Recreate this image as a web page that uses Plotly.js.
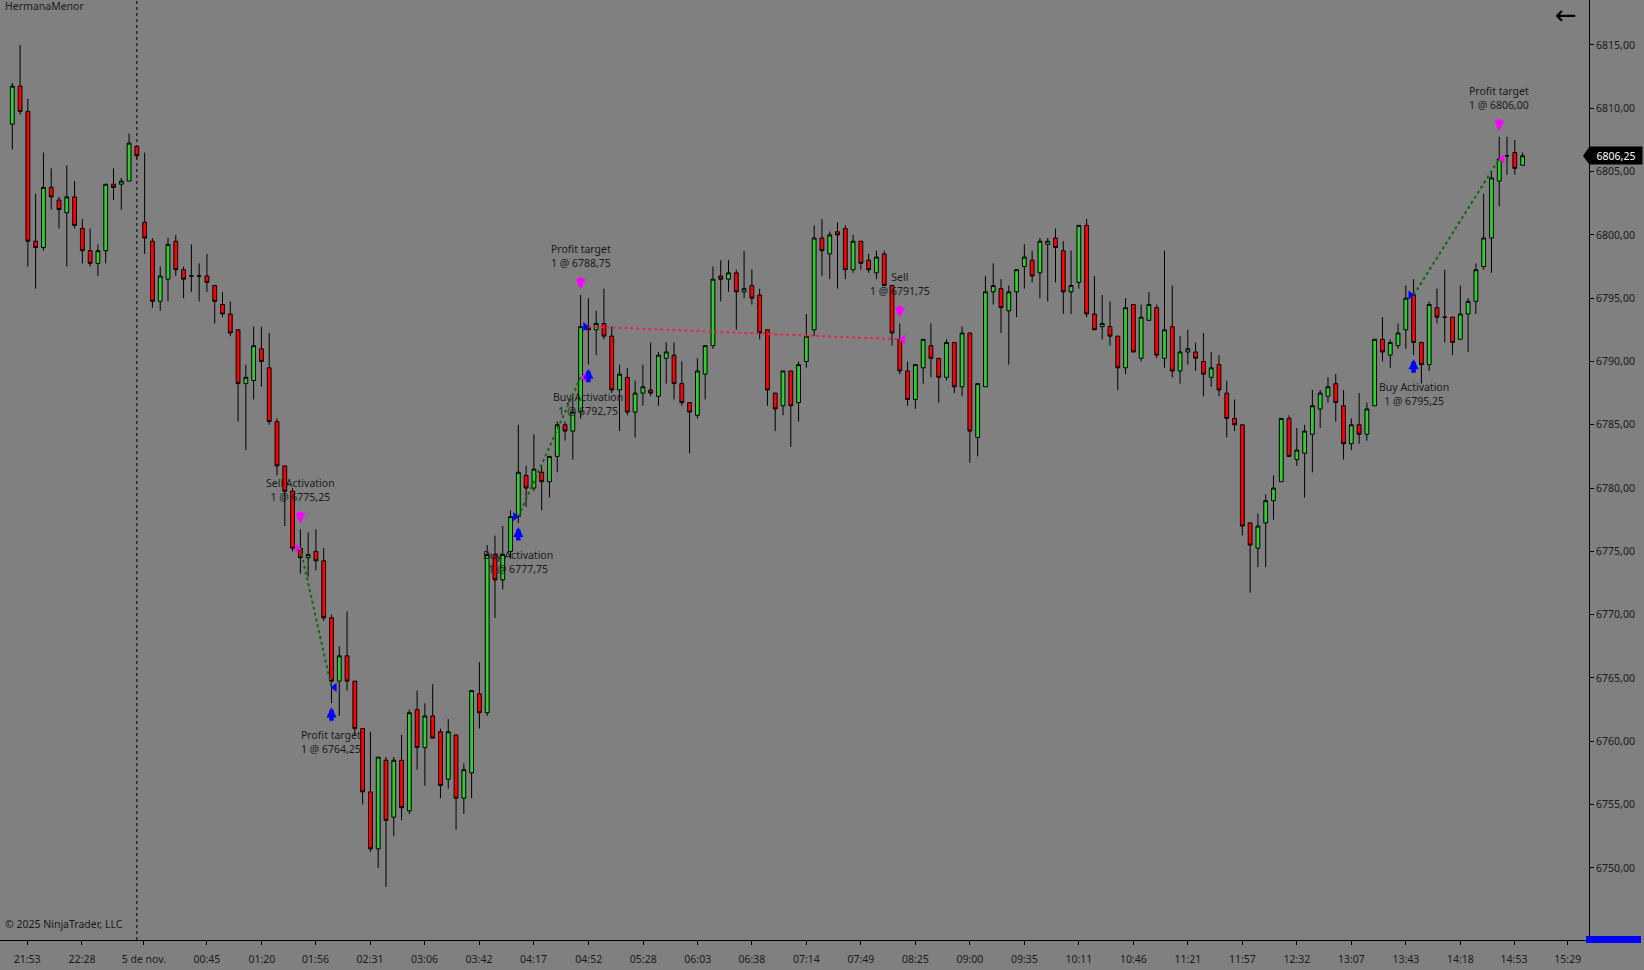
<!DOCTYPE html>
<html>
<head>
<meta charset="utf-8">
<script src="https://cdn.plot.ly/plotly-3.0.1.min.js"></script>
<style>
html,body{margin:0;padding:0;background:#808080;}
#chart{width:1644px;height:970px;}
</style>
</head>
<body>
<div id="chart"></div>
<script>
// ---- 5-minute OHLC bars ----
const barOpen = [
6808.75,6811.75,6809.75,6799.5,6799.0,6803.75,6802.75,6801.75,6803.0,6800.5,
6798.75,6797.75,6798.75,6804.0,6804.0,6804.25,6807.0,6801.0,6799.5,6794.75,
6796.5,6799.5,6797.25,6796.75,6796.75,6796.75,6796.0,6794.5,6793.75,6792.5,
6788.25,6788.5,6791.0,6789.5,6785.25,6781.75,6779.75,6775.25,6774.5,6775.0,
6774.25,6769.75,6764.75,6766.75,6764.75,6761.0,6756.0,6751.5,6758.5,6754.0,
6758.5,6754.5,6762.5,6759.5,6762.0,6760.75,6757.0,6760.5,6755.5,6757.5,
6763.75,6762.25,6774.75,6772.75,6775.0,6777.75,6781.0,6780.0,6781.25,6780.5,
6782.5,6785.0,6784.5,6786.0,6792.75,6792.5,6793.0,6792.0,6787.75,6788.75,
6786.0,6787.5,6787.75,6787.25,6790.25,6790.5,6788.25,6786.75,6785.75,6789.0,
6791.25,6796.75,6796.5,6797.0,6795.5,6796.0,6795.25,6792.5,6787.5,6786.5,
6789.25,6786.75,6790.0,6792.5,6799.75,6798.5,6800.25,6800.5,6797.25,6799.5,
6798.0,6797.0,6798.5,6796.0,6791.75,6789.25,6787.0,6789.5,6791.25,6790.25,
6788.75,6791.5,6788.0,6792.25,6784.0,6788.0,6795.5,6795.75,6794.0,6795.5,
6797.5,6798.0,6797.0,6799.25,6799.75,6798.75,6795.5,6796.25,6800.75,6793.75,
6792.75,6792.75,6792.0,6789.5,6794.5,6790.25,6793.25,6794.25,6790.25,6792.75,
6789.25,6790.75,6790.75,6790.0,6788.75,6789.75,6787.5,6785.5,6785.0,6777.25,
6775.25,6777.25,6779.0,6780.5,6785.5,6782.25,6782.75,6784.25,6786.25,6787.25,
6788.25,6786.5,6783.5,6785.0,6784.25,6786.5,6791.75,6790.5,6791.25,6792.5,
6795.25,6791.5,6789.75,6794.25,6793.5,6793.5,6791.75,6793.75,6794.75,6797.5,
6799.75,6804.25,6806.25,6806.5,6805.5
];
const barHigh = [
6812.0,6815.0,6810.75,6803.25,6806.5,6805.25,6803.0,6805.5,6804.25,6801.25,
6800.5,6799.25,6804.0,6805.25,6804.5,6808.0,6807.0,6806.5,6799.75,6797.5,
6799.75,6800.0,6797.5,6799.25,6797.75,6798.5,6796.0,6795.5,6794.75,6792.5,
6789.75,6792.75,6792.75,6792.25,6785.5,6781.75,6780.0,6776.75,6776.5,6776.75,
6775.25,6770.0,6767.5,6770.25,6764.75,6761.0,6760.75,6758.75,6758.75,6758.75,
6760.5,6762.5,6764.0,6763.0,6764.5,6761.0,6761.75,6760.5,6758.25,6764.0,
6766.25,6775.5,6776.25,6777.0,6778.25,6785.0,6781.75,6784.25,6781.75,6782.5,
6785.25,6785.25,6787.25,6795.25,6795.0,6794.0,6795.75,6792.75,6789.75,6789.5,
6788.5,6789.75,6791.5,6790.75,6791.5,6791.5,6790.0,6786.75,6790.25,6791.25,
6797.5,6798.0,6798.0,6797.25,6798.75,6797.25,6795.75,6792.5,6787.5,6789.25,
6789.25,6790.0,6793.75,6800.75,6801.25,6800.25,6801.0,6800.75,6800.0,6799.5,
6798.5,6798.75,6798.75,6796.0,6793.0,6790.0,6789.75,6791.75,6793.0,6790.25,
6791.75,6791.5,6792.75,6792.25,6788.25,6796.75,6797.75,6796.5,6796.0,6797.25,
6799.25,6798.75,6799.75,6799.75,6800.5,6799.5,6798.75,6800.75,6801.25,6796.75,
6795.25,6794.75,6792.0,6795.0,6794.5,6794.5,6795.5,6794.5,6798.75,6796.0,
6792.0,6792.5,6791.5,6792.25,6790.75,6790.5,6788.5,6787.0,6785.0,6777.25,
6778.0,6779.5,6781.0,6785.5,6785.75,6784.75,6785.0,6787.75,6787.75,6788.75,
6789.0,6787.75,6785.5,6787.5,6786.75,6791.75,6793.5,6791.75,6793.0,6796.0,
6796.5,6791.5,6794.75,6795.75,6797.25,6793.5,6796.0,6795.0,6797.75,6803.25,
6805.0,6807.75,6807.75,6807.5,6806.5
];
const barLow = [
6806.75,6809.5,6797.5,6795.75,6798.75,6802.0,6800.5,6797.5,6800.5,6797.75,
6797.5,6796.75,6797.75,6802.75,6802.0,6804.25,6806.0,6798.5,6794.25,6794.0,
6794.75,6796.75,6795.0,6795.5,6794.75,6795.5,6793.0,6793.5,6792.0,6785.25,
6783.0,6787.0,6788.0,6785.0,6781.0,6777.0,6775.0,6773.25,6773.0,6773.5,
6769.5,6763.0,6762.0,6764.0,6760.5,6755.0,6751.25,6750.0,6748.5,6752.5,
6753.75,6754.25,6757.75,6756.5,6760.25,6755.5,6756.25,6753.0,6754.25,6755.5,
6761.0,6762.0,6769.75,6772.0,6774.5,6777.25,6778.5,6779.75,6778.25,6779.25,
6781.25,6783.75,6782.25,6785.5,6789.75,6790.5,6791.75,6787.5,6784.5,6785.75,
6784.0,6786.5,6787.25,6786.5,6788.25,6787.0,6786.5,6782.75,6785.5,6787.0,
6791.0,6794.75,6795.5,6792.5,6795.0,6794.5,6791.75,6786.5,6784.5,6785.75,
6783.25,6785.25,6789.5,6792.0,6796.75,6796.5,6795.75,6796.5,6797.0,6797.25,
6797.0,6796.5,6796.0,6791.25,6789.0,6786.5,6786.25,6788.25,6788.75,6786.75,
6788.5,6787.5,6787.25,6782.0,6782.5,6788.0,6794.5,6792.25,6789.75,6793.5,
6795.75,6796.25,6795.0,6794.75,6796.25,6793.75,6793.75,6795.75,6793.5,6792.5,
6791.75,6791.25,6787.75,6789.0,6790.75,6790.0,6793.25,6790.25,6789.5,6788.75,
6788.25,6789.75,6789.25,6787.25,6788.0,6787.25,6784.0,6784.5,6776.25,6771.75,
6773.75,6773.75,6777.5,6780.5,6782.5,6781.75,6779.25,6781.25,6784.75,6786.75,
6785.25,6782.25,6783.0,6783.5,6783.75,6786.5,6790.0,6789.5,6791.0,6791.0,
6790.5,6788.25,6789.25,6793.0,6791.5,6790.5,6791.75,6790.75,6793.75,6797.25,
6797.0,6802.25,6804.75,6804.75,6805.5
];
const barClose = [
6811.75,6809.75,6799.5,6799.0,6803.75,6803.0,6802.0,6803.0,6800.75,6798.75,
6797.75,6798.75,6804.0,6803.75,6804.25,6807.25,6806.25,6799.75,6794.75,6796.75,
6799.25,6797.25,6796.5,6796.75,6796.75,6796.25,6794.75,6793.75,6792.25,6788.25,
6788.75,6791.25,6790.0,6785.25,6781.75,6779.75,6775.25,6774.5,6774.75,6774.25,
6769.75,6764.75,6766.75,6764.75,6761.0,6756.0,6751.5,6758.75,6753.75,6758.5,
6754.75,6762.25,6759.5,6762.0,6760.25,6756.5,6760.75,6755.5,6757.75,6764.0,
6762.25,6774.75,6772.75,6774.75,6777.75,6781.25,6780.0,6781.5,6780.5,6782.5,
6785.0,6784.5,6786.0,6792.75,6792.5,6793.0,6792.0,6787.75,6789.0,6786.0,
6787.5,6788.0,6787.5,6790.5,6790.75,6788.25,6786.75,6786.0,6789.25,6791.25,
6796.5,6796.5,6797.0,6795.5,6795.75,6795.0,6792.25,6787.75,6786.25,6789.25,
6786.5,6789.75,6792.0,6799.75,6798.75,6800.0,6800.0,6797.25,6799.5,6797.75,
6797.25,6798.25,6796.0,6792.25,6789.25,6787.0,6789.75,6791.75,6790.25,6788.75,
6791.5,6788.0,6792.25,6784.5,6788.25,6795.5,6796.0,6794.25,6795.5,6797.25,
6798.25,6796.75,6799.5,6799.5,6799.0,6795.5,6796.0,6800.75,6793.75,6792.5,
6793.0,6792.0,6789.5,6794.25,6790.75,6793.5,6794.5,6790.5,6792.5,6789.25,
6790.75,6791.0,6790.25,6789.0,6789.5,6787.75,6785.5,6785.0,6777.0,6775.5,
6777.0,6779.0,6780.0,6785.5,6782.5,6783.0,6784.5,6786.5,6787.5,6788.0,
6786.75,6783.5,6785.0,6784.25,6786.25,6791.75,6790.75,6791.5,6792.25,6795.0,
6791.5,6789.75,6794.5,6793.5,6793.5,6791.5,6793.75,6794.75,6797.25,6799.75,
6804.5,6806.0,6806.25,6805.25,6806.25
];

// ---- time axis labels ----
const timeTickPos = [1.9,8.95,16.9,25.0,32.05,38.95,45.95,52.95,59.95,66.95,74.05,81.05,88.05,95.0,102.0,109.0,116.0,123.0,130.0,137.0,144.0,151.0,158.0,165.0,172.0,179.0,186.0,192.9,199.8];
const timeTickText = ['21:53','22:28','5 de nov.','00:45','01:20','01:56','02:31','03:06','03:42','04:17','04:52','05:28','06:03','06:38','07:14','07:49','08:25','09:00','09:35','10:11','10:46','11:21','11:57','12:32','13:07','13:43','14:18','14:53','15:29'];
const sessionBreakBar = 16;

// ---- price axis ----
const priceTicks = [6750,6755,6760,6765,6770,6775,6780,6785,6790,6795,6800,6805,6810,6815];

// ---- executed trades ----
const tradeSide       = ['short','long','long','long'];
const tradeEntryBar   = [37, 65, 74, 180];
const tradeEntryPrice = [6775.25, 6777.75, 6792.75, 6795.25];
const tradeEntryName  = ['Sell Activation','Buy Activation','Buy Activation','Buy Activation'];
const tradeExitBar    = [41, 73, 114, 191];
const tradeExitPrice  = [6764.25, 6788.75, 6791.75, 6806.00];
const tradeExitName   = ['Profit target','Profit target','Sell','Profit target'];
const tradeQty        = [1,1,1,1];

const instrumentName = 'HermanaMenor';
const copyright = '\u00a9 2025 NinjaTrader, LLC';

// ---------------------------------------------------------------
const idx = barOpen.map((_, i) => i);
const fmt = v => v.toFixed(2).replace('.', ',');
const TXT = '#1a1a1a';
const FONT = 'Noto Sans, Open Sans, sans-serif';
const FS = 10.5;
const BUY = '#0000ff', SELL = '#ff00ff';

const traces = [];
traces.push({
  type: 'candlestick', x: idx, open: barOpen, high: barHigh, low: barLow, close: barClose,
  increasing: {fillcolor: '#32cd32', line: {color: '#000000', width: 1}},
  decreasing: {fillcolor: '#ff0000', line: {color: '#000000', width: 1}},
  whiskerwidth: 0, hoverinfo: 'none', showlegend: false
});

const annotations = [];
const shapes = [];

function actionMarks(bar, price, isBuy, isEntry, name, qty) {
  const col = isBuy ? BUY : SELL;
  traces.push({
    type: 'scatter', mode: 'markers', x: [bar + (isEntry ? -0.4 : 0.4)], y: [price],
    marker: {symbol: isEntry ? 'triangle-right' : 'triangle-left', size: 8, color: col, line: {width: 0}},
    hoverinfo: 'none', showlegend: false
  });
  annotations.push({
    x: bar, y: isBuy ? barLow[bar] : barHigh[bar], xref: 'x', yref: 'y', text: '',
    showarrow: true, ax: 0, ay: isBuy ? 19 : -19, arrowhead: 2, arrowsize: 0.45, arrowwidth: 4.5,
    arrowcolor: col, standoff: isBuy ? 4 : 6
  });
  annotations.push({
    x: bar, y: isBuy ? barLow[bar] : barHigh[bar], xref: 'x', yref: 'y', showarrow: false,
    yanchor: isBuy ? 'top' : 'bottom', yshift: isBuy ? -23 : 23,
    text: name + '<br>' + qty + ' @ ' + fmt(price),
    font: {family: FONT, size: FS, color: TXT}, align: 'center'
  });
}

for (let t = 0; t < tradeSide.length; t++) {
  const long = tradeSide[t] === 'long';
  const pnl = long ? tradeExitPrice[t] - tradeEntryPrice[t] : tradeEntryPrice[t] - tradeExitPrice[t];
  traces.push({
    type: 'scatter', mode: 'lines',
    x: [tradeEntryBar[t], tradeExitBar[t]], y: [tradeEntryPrice[t], tradeExitPrice[t]],
    line: {color: pnl > 0 ? '#0b6b0b' : '#e8284a', width: 2, dash: 'dot'},
    hoverinfo: 'none', showlegend: false
  });
  actionMarks(tradeEntryBar[t], tradeEntryPrice[t], long, true, tradeEntryName[t], tradeQty[t]);
  actionMarks(tradeExitBar[t], tradeExitPrice[t], !long, false, tradeExitName[t], tradeQty[t]);
}

// session break
shapes.push({type: 'line', xref: 'x', yref: 'paper', x0: sessionBreakBar, x1: sessionBreakBar, y0: 0, y1: 1,
  line: {color: '#000000', width: 1, dash: 'dot'}, layer: 'below'});

// last price marker
const last = barClose[barClose.length - 1];
const pxPerPt = 940 / (6818.554 - 6744.30);
const halfH = 8.5 / pxPerPt;
shapes.push({type: 'path', xref: 'paper', yref: 'y',
  path: 'M ' + (1583 / 1589) + ',' + last + ' L 1,' + (last + halfH) + ' L 1,' + (last - halfH) + ' Z',
  fillcolor: '#000000', line: {width: 0}, layer: 'above'});
annotations.push({x: 1, xref: 'paper', y: last, yref: 'y', xanchor: 'left', yanchor: 'middle', showarrow: false,
  text: fmt(last), bgcolor: '#000000', font: {family: FONT, size: FS, color: '#ffffff'},
  width: 48, height: 13, borderpad: 2, align: 'center'});

// lower panel value marker (cut off at the bottom)
shapes.push({type: 'rect', xref: 'paper', yref: 'paper', x0: 1586 / 1589, x1: 1641 / 1589,
  y0: -3 / 940, y1: 4 / 940, fillcolor: '#0000ff', line: {width: 0}, layer: 'above'});

annotations.push({x: 0, xref: 'paper', y: 1, yref: 'paper', xanchor: 'left', yanchor: 'top', xshift: 3, yshift: 3,
  showarrow: false, text: instrumentName, font: {family: FONT, size: FS, color: TXT}});
annotations.push({x: 0, xref: 'paper', y: 0, yref: 'paper', xanchor: 'left', yanchor: 'middle', xshift: 3, yshift: 16,
  showarrow: false, text: copyright, font: {family: FONT, size: FS, color: TXT}});
annotations.push({x: 1, xref: 'paper', y: 1, yref: 'paper', xanchor: 'center', yanchor: 'middle', xshift: -23, yshift: -15,
  showarrow: false, text: '\u2190', font: {family: 'DejaVu Sans', size: 26, color: '#000000'}});

const layout = {
  width: 1644, height: 970,
  margin: {l: 0, r: 55, t: 0, b: 30, pad: 0},
  paper_bgcolor: '#808080', plot_bgcolor: '#808080',
  separators: ',.',
  showlegend: false,
  font: {family: FONT, size: FS, color: TXT},
  xaxis: {
    range: [-1.58, 202.53], showgrid: false, zeroline: false, showline: true,
    linecolor: '#000000', linewidth: 1, ticks: 'outside', ticklen: 4, tickcolor: '#000000',
    tickmode: 'array', tickvals: timeTickPos, ticktext: timeTickText,
    tickfont: {family: FONT, size: FS, color: TXT}, ticklabelstandoff: 5,
    rangeslider: {visible: false}, fixedrange: true
  },
  yaxis: {
    side: 'right', range: [6744.30, 6818.554], showgrid: false, zeroline: false, showline: true,
    linecolor: '#000000', linewidth: 1, ticks: 'outside', ticklen: 4, tickcolor: '#000000',
    tickmode: 'array', tickvals: priceTicks, tickformat: '.2f',
    tickfont: {family: FONT, size: FS, color: TXT}, fixedrange: true
  },
  shapes: shapes,
  annotations: annotations
};

Plotly.newPlot('chart', traces, layout, {staticPlot: true, displayModeBar: false});
</script>
</body>
</html>
